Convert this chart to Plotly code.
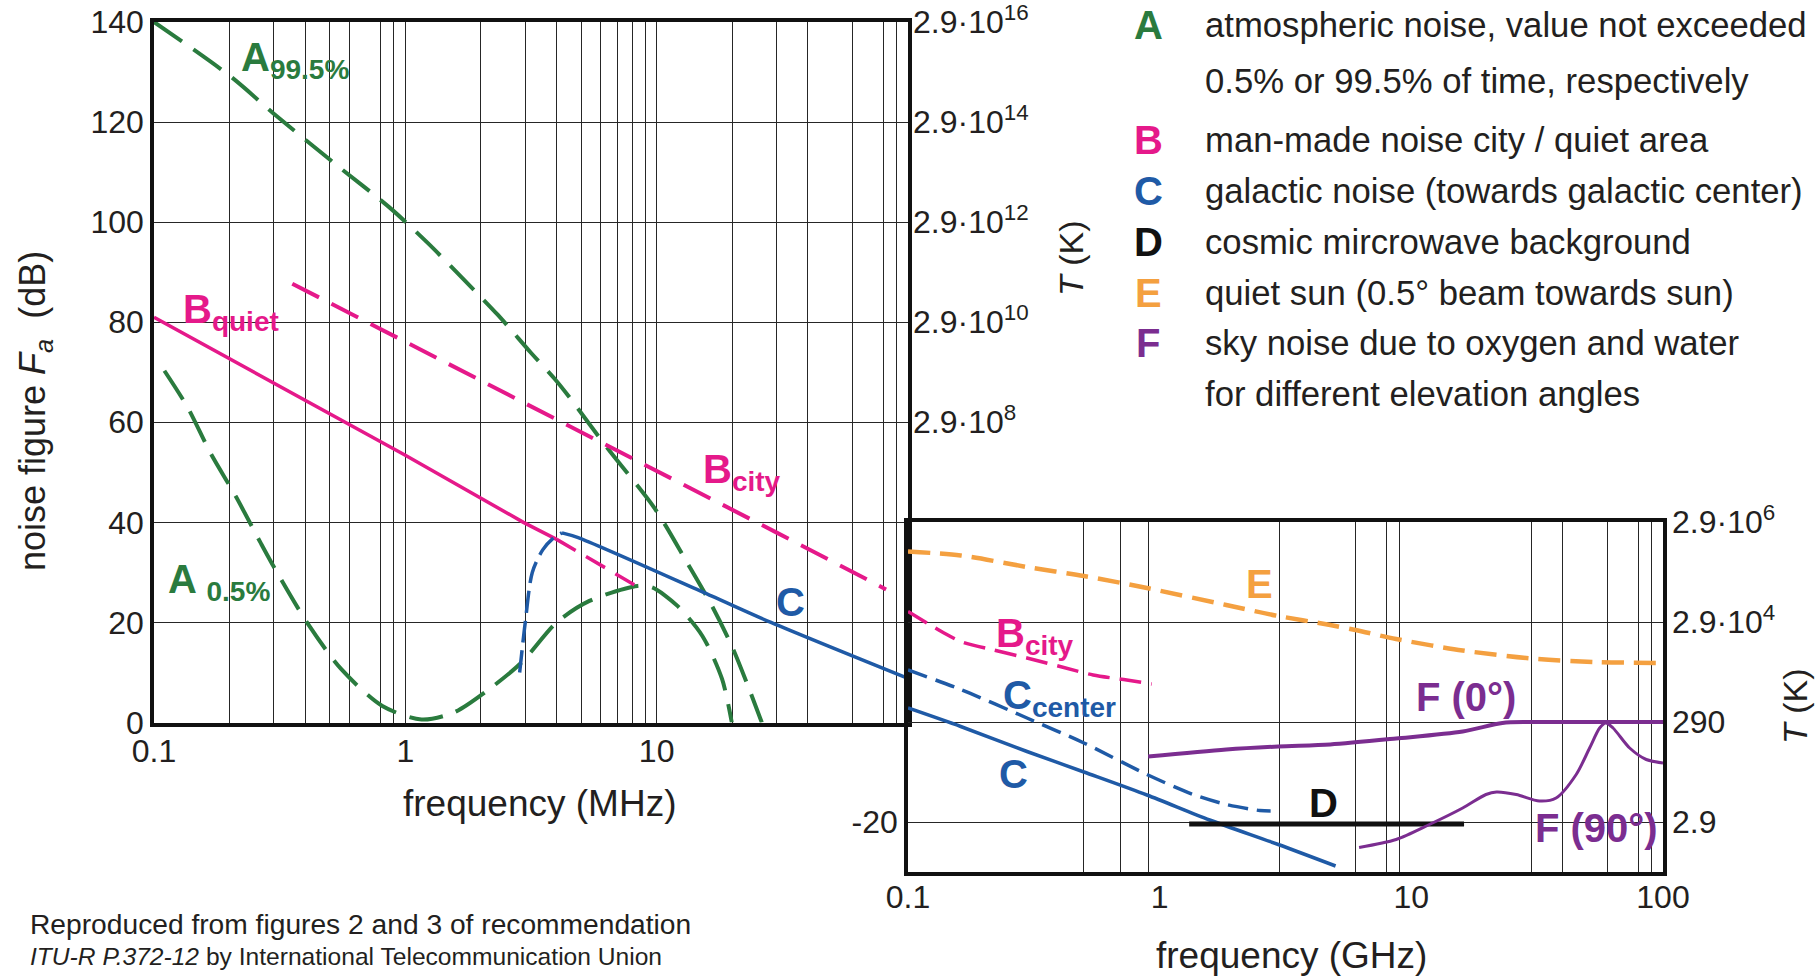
import numpy as np
import plotly.graph_objects as go

W, H = 1816, 976
FONT = "Liberation Sans, Arial, sans-serif"
TXT = "#231f20"
GREEN = "#2a7b3e"
PINK = "#e5198a"
BLUE = "#1f5aa6"
ORANGE = "#f4a040"
PURPLE = "#7b2d90"
GRID = "#262626"

# ---------------- data (left panel: MHz) ----------------
A995_f = [0.1, 0.203, 0.309, 0.533, 0.871, 1.23, 1.71, 2.33, 3.16, 3.94, 4.45, 6.4, 9.85, 13.2, 16.6, 19.9, 22.8, 26.2]
A995_db = [140, 129, 121.1, 111.4, 102.8, 95.8, 88.5, 81.5, 73.9, 68.6, 65.3, 54.7, 42.7, 32, 23.3, 15.3, 8, 0]

A05_f = [0.11, 0.136, 0.168, 0.211, 0.265, 0.303, 0.406, 0.555, 0.81, 1.16, 1.56, 2.16, 2.9, 4.0, 5.4, 8.4, 9.6, 12.1, 15.2, 18.2, 19.9]
A05_db = [70.3, 63, 53.8, 45.3, 36, 30.7, 20, 10.7, 3.3, 0.6, 2, 6.7, 12, 20, 24.3, 27.3, 27, 23.3, 17.3, 8.7, 0]

Bq_f = [0.1, 0.5, 1.0, 2.95, 4.0]
Bq_db = [81, 61.8, 53.4, 40, 36.6]
Bq2_f = [4.0, 8.1, 9.0]
Bq2_db = [36.6, 27.6, 26.6]

Bc_f = [0.355, 2.41, 29.9, 81.8]
Bc_db = [87.7, 66.3, 38.0, 26.6]

Crise_f = [2.85, 3.0, 3.2, 3.52, 3.85, 4.2]
Crise_db = [10, 20, 30, 34.5, 36.7, 37.9]
C_f = [4.2, 4.84, 16.5, 28.5, 100]
C_db = [37.9, 37.0, 25.3, 20.0, 8.8]

# ---------------- data (right panel: GHz) ----------------
Bc2_f = [0.1, 0.119, 0.139, 0.162, 0.219, 0.297, 0.402, 0.544, 0.74, 0.93]
Bc2_db = [22.1, 19.8, 17.8, 16.1, 14.4, 12.8, 11.1, 9.4, 8.4, 7.6]

Ccen_f = [0.1, 0.162, 0.297, 0.5, 0.89, 1.36, 1.84, 2.5, 2.76]
Ccen_db = [10.4, 6.5, 0.8, -4.2, -10.5, -14.5, -16.5, -17.7, -17.8]

C2_f = [0.1, 0.162, 0.297, 0.5, 0.89, 1.58, 2.96, 5.0]
C2_db = [2.8, -0.9, -5.9, -10.0, -14.6, -19.6, -24.5, -28.8]

D_f = [1.31, 16.2]
D_db = [-20.4, -20.4]

E_f = [0.1, 0.162, 0.297, 0.5, 0.89, 1.84, 2.96, 4.76, 6.0, 8.7, 16, 30, 54, 100]
E_db = [34.1, 33.3, 31.0, 29.2, 26.8, 23.4, 21.2, 19.4, 18.4, 16.6, 14.3, 12.7, 12.0, 11.8]

F0_f = [0.9, 1.84, 2.96, 4.76, 8.7, 16, 23, 29.5, 60, 100]
F0_db = [-6.9, -5.5, -4.9, -4.5, -3.3, -1.9, -0.2, 0, 0, 0]

F90_f = [6.2, 8.7, 11.8, 16, 19.8, 21.8, 26.1, 32.3, 37.6, 45.2, 51.1, 56, 59.2, 63.3, 73.7, 85.8, 100]
F90_db = [-25.1, -23.5, -20.5, -17.2, -14.5, -14.0, -14.5, -15.8, -15.2, -10.5, -5.2, -1.2, -0.2, -1.2, -5.2, -7.5, -8.2]

# ---------------- axes ticks ----------------
L_xticks = [0.1, 1, 10]
L_xlabels = ["0.1", "1", "10"]
L_xminor = [0.2, 0.3, 0.4, 0.5, 0.6, 0.8, 0.9, 2, 3, 4, 5, 6, 7, 8, 9, 20, 30, 40, 60, 80, 90]
R_xticks = [0.1, 1, 10, 100]
R_xlabels = ["0.1", "1", "10", "100"]
R_xminor = [0.5, 0.7, 0.9, 3, 6, 8, 9, 30, 40, 60, 80, 90]
L_yticks = [0, 20, 40, 60, 80, 100, 120, 140]
L_Tticks = [60, 80, 100, 120, 140]
L_Tlabels = ["2.9·10<sup>8</sup>", "2.9·10<sup>10</sup>", "2.9·10<sup>12</sup>",
             "2.9·10<sup>14</sup>", "2.9·10<sup>16</sup>"]
R_yticks = [-20, 0, 20]
R_ylabels = ["-20", "", ""]
R_Tticks = [-20, 0, 20, 40]
R_Tlabels = ["2.9", "290", "2.9·10<sup>4</sup>", "2.9·10<sup>6</sup>"]

legend_letters = ["A", "", "B", "C", "D", "E", "F", ""]
legend_colors = [GREEN, GREEN, PINK, BLUE, "#111111", ORANGE, PURPLE, PURPLE]
legend_texts = ["atmospheric noise, value not exceeded",
                "0.5% or 99.5% of time, respectively",
                "man-made noise city / quiet area",
                "galactic noise (towards galactic center)",
                "cosmic mircrowave background",
                "quiet sun (0.5° beam towards sun)",
                "sky noise due to oxygen and water",
                "for different elevation angles"]

# ---------------- layout geometry (pixels) ----------------
XL0, XM, XR1 = 154, 908, 1663
YL_TOP, Y0 = 22, 722.5
YR_TOP, YR_BOT = 522, 872


def px(x):
    return x / W


def py(y):
    return 1 - y / H


fig = go.Figure()


def line(xs, ys, color, width, dash="solid", xa="x", ya="y", shape="spline"):
    fig.add_trace(go.Scatter(x=xs, y=ys, mode="lines", xaxis=xa, yaxis=ya,
                             line=dict(color=color, width=width, dash=dash, shape=shape, smoothing=0.8),
                             hoverinfo="skip", showlegend=False))


# left panel
line(A995_f, A995_db, GREEN, 4, "34px,14px")
line(A05_f, A05_db, GREEN, 4, "34px,14px")
line(Bq_f, Bq_db, PINK, 3.5, "solid", shape="linear")
line(Bq2_f, Bq2_db, PINK, 3.5, "22px,12px", shape="linear")
line(Bc_f, Bc_db, PINK, 4, "30px,14px", shape="linear")
line(Crise_f, Crise_db, BLUE, 3.5, "22px,8px")
line(C_f, C_db, BLUE, 3.5, "solid")
# right panel
line(Bc2_f, Bc2_db, PINK, 3.5, "22px,10px", "x2", "y2")
line(Ccen_f, Ccen_db, BLUE, 3.5, "20px,9px", "x2", "y2")
line(C2_f, C2_db, BLUE, 3.5, "solid", "x2", "y2")
line(D_f, D_db, "#111111", 5, "solid", "x2", "y2", shape="linear")
line(E_f, E_db, ORANGE, 4.5, "22px,10px", "x2", "y2")
line(F0_f, F0_db, PURPLE, 4, "solid", "x2", "y2")
line(F90_f, F90_db, PURPLE, 3, "solid", "x2", "y2")

# invisible traces so the temperature axes are drawn
fig.add_trace(go.Scatter(x=[1], y=[100], xaxis="x", yaxis="y3", mode="markers",
                         marker=dict(opacity=0), hoverinfo="skip", showlegend=False))
fig.add_trace(go.Scatter(x=[1], y=[10], xaxis="x2", yaxis="y4", mode="markers",
                         marker=dict(opacity=0), hoverinfo="skip", showlegend=False))

tickfont = dict(family=FONT, size=32, color=TXT)
frame = dict(showline=True, mirror=True, linecolor="#111111", linewidth=3.5)

fig.update_layout(
    width=W, height=H, margin=dict(l=0, r=0, t=0, b=0, autoexpand=False),
    paper_bgcolor="white", plot_bgcolor="white", showlegend=False,
    xaxis=dict(type="log", range=[-1, 2], domain=[px(XL0), px(XM)], anchor="y", automargin=False,
               tickmode="array", tickvals=L_xticks, ticktext=L_xlabels, ticks="",
               showgrid=True, gridcolor=GRID, gridwidth=1.2, tickfont=tickfont,
               ticklabelstandoff=-3, ticklabeloverflow="allow",
               minor=dict(tickmode="array", tickvals=L_xminor, showgrid=True, gridcolor=GRID,
                          gridwidth=1.2, ticks=""),
               **frame),
    yaxis=dict(range=[0, 140], domain=[py(Y0), py(YL_TOP)], anchor="x", automargin=False,
               tickmode="array", tickvals=L_yticks, ticks="", zeroline=False,
               showgrid=True, gridcolor=GRID, gridwidth=1.2, tickfont=tickfont,
               ticklabelstandoff=0, ticklabeloverflow="allow", **frame),
    yaxis3=dict(range=[0, 140], overlaying="y", side="right", anchor="x", automargin=False,
                tickmode="array", tickvals=L_Tticks, ticktext=L_Tlabels, ticks="",
                showgrid=False, zeroline=False, showline=False, ticklabeloverflow="allow",
                tickfont=dict(family=FONT, size=32, color=TXT), ticklabelstandoff=4),
    xaxis2=dict(type="log", range=[-1, 2], domain=[px(XM), px(XR1)], anchor="y2", automargin=False,
                tickmode="array", tickvals=R_xticks, ticktext=R_xlabels, ticks="",
                showgrid=False, tickfont=tickfont, ticklabelstandoff=-6, ticklabeloverflow="allow",
                minor=dict(tickmode="array", tickvals=R_xminor, showgrid=True, gridcolor=GRID,
                           gridwidth=1.2, ticks=""),
                **frame),
    yaxis2=dict(range=[-30, 40], domain=[py(YR_BOT), py(YR_TOP)], anchor="x2", automargin=False,
                tickmode="array", tickvals=R_yticks, ticktext=R_ylabels, ticks="", zeroline=False,
                showgrid=True, gridcolor=GRID, gridwidth=1.2, tickfont=tickfont,
                ticklabelstandoff=0, ticklabeloverflow="allow", **frame),
    yaxis4=dict(range=[-30, 40], overlaying="y2", side="right", anchor="x2", automargin=False,
                tickmode="array", tickvals=R_Tticks, ticktext=R_Tlabels, ticks="",
                showgrid=False, zeroline=False, showline=False, ticklabeloverflow="allow",
                tickfont=dict(family=FONT, size=32, color=TXT), ticklabelstandoff=8),
)

ann = []


def lab(text, xpix, ypix, color, panel="L", anchor="left", size=40):
    x0 = XL0 if panel == "L" else XM
    logf = -1 + (xpix - x0) / 251.5
    db = (Y0 - ypix) / 5.0
    ann.append(dict(text=text, x=logf, y=db,
                    xref="x" if panel == "L" else "x2", yref="y" if panel == "L" else "y2",
                    xanchor=anchor, yanchor="middle", showarrow=False,
                    font=dict(family=FONT, size=size, color=color)))


lab("<b>A<sub>99.5%</sub></b>", 239, 60, GREEN)
lab("<b>B<sub>quiet</sub></b>", 181, 312, PINK)
lab("<b>B<sub>city</sub></b>", 701, 472, PINK)
lab("<b>A <sub>0.5%</sub></b>", 166, 582, GREEN)
lab("<b>C</b>", 791, 602, BLUE, anchor="center")
lab("<b>B<sub>city</sub></b>", 994, 636, PINK, "R")
lab("<b>C<sub>center</sub></b>", 1001, 698, BLUE, "R")
lab("<b>C</b>", 1013, 774, BLUE, "R", anchor="center")
lab("<b>D</b>", 1323, 803, "#111111", "R", anchor="center")
lab("<b>E</b>", 1259, 584, ORANGE, "R", anchor="center")
lab("<b>F (0°)</b>", 1414, 697, PURPLE, "R")
lab("<b>F (90°)</b>", 1533, 828, PURPLE, "R")

# legend block
rows_y = [25.5, 81, 140, 191, 242, 293, 343, 394]
for letter, col, txt, yy in zip(legend_letters, legend_colors, legend_texts, rows_y):
    if letter:
        ann.append(dict(text="<b>" + letter + "</b>", x=px(1148), y=py(yy), xref="paper", yref="paper",
                        xanchor="center", yanchor="middle", showarrow=False,
                        font=dict(family=FONT, size=40, color=col)))
    ann.append(dict(text=txt, x=px(1203), y=py(yy), xref="paper", yref="paper",
                    xanchor="left", yanchor="middle", showarrow=False,
                    font=dict(family=FONT, size=34.7, color=TXT)))

# axis titles
ann.append(dict(text="noise figure <i>F</i><sub><i>a</i></sub>\u00a0\u00a0(dB)", x=px(35), y=py(411),
                xref="paper", yref="paper", textangle=-90, showarrow=False,
                xanchor="center", yanchor="middle", font=dict(family=FONT, size=36, color=TXT)))
ann.append(dict(text="frequency (MHz)", x=px(539), y=py(803), xref="paper", yref="paper",
                showarrow=False, xanchor="center", yanchor="middle",
                font=dict(family=FONT, size=37, color=TXT)))
ann.append(dict(text="frequency (GHz)", x=px(1291), y=py(955), xref="paper", yref="paper",
                showarrow=False, xanchor="center", yanchor="middle",
                font=dict(family=FONT, size=37, color=TXT)))
ann.append(dict(text="<i>T</i> (K)", x=px(1071), y=py(258), xref="paper", yref="paper",
                textangle=-90, showarrow=False, xanchor="center", yanchor="middle",
                font=dict(family=FONT, size=34, color=TXT)))
ann.append(dict(text="<i>T</i> (K)", x=px(1795), y=py(706), xref="paper", yref="paper",
                textangle=-90, showarrow=False, xanchor="center", yanchor="middle",
                font=dict(family=FONT, size=34, color=TXT)))

# source note
ann.append(dict(text="Reproduced from figures 2 and 3 of recommendation", x=px(28), y=py(924),
                xref="paper", yref="paper", showarrow=False, xanchor="left", yanchor="middle",
                font=dict(family=FONT, size=28.2, color=TXT)))
ann.append(dict(text="<i>ITU-R P.372-12</i> by International Telecommunication Union", x=px(28), y=py(956),
                xref="paper", yref="paper", showarrow=False, xanchor="left", yanchor="middle",
                font=dict(family=FONT, size=24.6, color=TXT)))

fig.update_layout(annotations=ann)
fig.write_html("out.html")
